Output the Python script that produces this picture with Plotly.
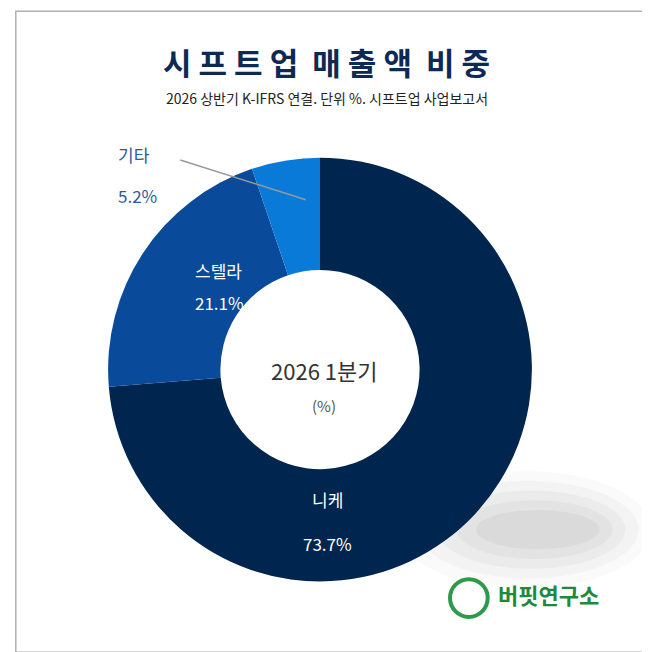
import plotly.graph_objects as go

labels = ["니케", "스텔라", "기타"]
values = [73.7, 21.1, 5.2]
colors = ["#00264f", "#0a4a9a", "#0a7ad8"]

fig = go.Figure()
fig.add_trace(go.Pie(
    labels=labels, values=values, hole=0.47, sort=False, direction="clockwise",
    rotation=0, marker=dict(colors=colors, line=dict(width=0)),
    textinfo="none",
    domain=dict(x=[0.154, 0.806], y=[0.120, 0.771]), showlegend=False, hoverinfo="label+value",
))

for i, op in enumerate([0.05, 0.07, 0.09, 0.11, 0.12]):
    fig.add_shape(type="circle", xref="paper", yref="paper", layer="below",
                  x0=0.60 + i*0.03, x1=0.99 - i*0.02, y0=0.11 + i*0.015, y1=0.29 - i*0.015,
                  fillcolor=f"rgba(160,160,160,{op})", line=dict(width=0))
fig.add_shape(type="rect", xref="paper", yref="paper", x0=0.012, x1=0.985, y0=0.012, y1=0.995,
              line=dict(color="#b0b0b0", width=1.5), layer="above")
fig.add_shape(type="line", xref="paper", yref="paper", x0=0.265, y0=0.767, x1=0.458, y1=0.706,
              line=dict(color="#999", width=1.5))
fig.add_shape(type="circle", xref="paper", yref="paper", x0=0.680, x1=0.738, y0=0.066, y1=0.124,
              line=dict(color="#2c9a4a", width=4), layer="above")

ann = [
    dict(text="<b>시 프 트 업  매 출 액  비 중</b>", x=0.49, y=0.955, font=dict(size=31, color="#0d2a55")),
    dict(text="2026 상반기 K-IFRS 연결. 단위 %. 시프트업 사업보고서", x=0.49, y=0.88, font=dict(size=14, color="#222")),
    dict(text="2026 1분기", x=0.486, y=0.445, font=dict(size=22, color="#333")),
    dict(text="(%)", x=0.486, y=0.39, font=dict(size=15, color="#555")),
    dict(text=labels[2], x=0.166, y=0.797, font=dict(size=17, color="#2a5a9a")),
    dict(text=f"{values[2]}%", x=0.166, y=0.734, font=dict(size=17, color="#2a5a9a")),
    dict(text=labels[1], x=0.285, y=0.598, font=dict(size=17, color="white")),
    dict(text=f"{values[1]}%", x=0.285, y=0.548, font=dict(size=17, color="white")),
    dict(text=labels[0], x=0.492, y=0.224, font=dict(size=17, color="white")),
    dict(text=f"{values[0]}%", x=0.492, y=0.157, font=dict(size=17, color="white")),
    dict(text="<b>버핏연구소</b>", x=0.75, xanchor="left", y=0.073, font=dict(size=22, color="#1c8a3a")),
]
for a in ann:
    a.update(xref="paper", yref="paper", showarrow=False, font=dict(family="Noto Sans CJK KR", **a["font"]))
fig.update_layout(width=650, height=652, margin=dict(l=0, r=0, t=0, b=0),
                  paper_bgcolor="white", plot_bgcolor="white", annotations=ann)
fig.write_html("out.html")
